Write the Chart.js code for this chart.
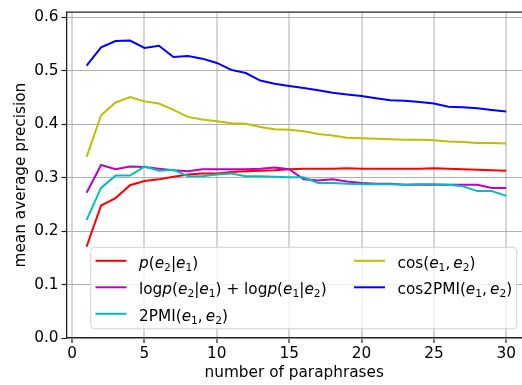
<!DOCTYPE html>
<html>
<head>
<meta charset="utf-8">
<script src="https://cdn.jsdelivr.net/npm/chart.js@4.4.0/dist/chart.umd.min.js"></script>
<style>
  html, body { margin: 0; padding: 0; background: #ffffff; overflow: hidden; }
  canvas { display: block; }
</style>
</head>
<body>
<canvas id="chart" width="522" height="385"></canvas>
<script>
// Number of paraphrases (x values)
const paraphraseCounts = [1, 2, 3, 4, 5, 6, 7, 8, 9, 10, 11, 12, 13, 14, 15,
                          16, 17, 18, 19, 20, 21, 22, 23, 24, 25, 26, 27, 28, 29, 30];

// Mean average precision per scoring method
const condProb = [0.171, 0.248, 0.262, 0.286, 0.294, 0.297, 0.302, 0.306, 0.308, 0.308,
                  0.311, 0.312, 0.313, 0.314, 0.316, 0.317, 0.317, 0.317, 0.318, 0.317,
                  0.317, 0.317, 0.317, 0.317, 0.318, 0.317, 0.316, 0.315, 0.314, 0.313];
const logProbSum = [0.272, 0.324, 0.316, 0.321, 0.320, 0.317, 0.314, 0.312, 0.316, 0.316,
                    0.316, 0.316, 0.317, 0.319, 0.316, 0.297, 0.295, 0.297, 0.293, 0.290,
                    0.289, 0.289, 0.287, 0.287, 0.287, 0.287, 0.287, 0.287, 0.281, 0.281];
const pmi2 = [0.221, 0.281, 0.304, 0.304, 0.321, 0.313, 0.315, 0.303, 0.303, 0.306,
              0.308, 0.303, 0.303, 0.302, 0.301, 0.301, 0.290, 0.290, 0.289, 0.288,
              0.288, 0.288, 0.287, 0.288, 0.288, 0.287, 0.284, 0.275, 0.275, 0.266];
const cosine = [0.339, 0.417, 0.441, 0.451, 0.443, 0.439, 0.427, 0.414, 0.409, 0.406,
                0.402, 0.401, 0.395, 0.391, 0.390, 0.387, 0.382, 0.379, 0.375, 0.374,
                0.373, 0.372, 0.371, 0.371, 0.370, 0.368, 0.367, 0.365, 0.365, 0.364];
const cos2pmi = [0.510, 0.544, 0.556, 0.557, 0.543, 0.547, 0.526, 0.528, 0.523, 0.515,
                 0.502, 0.496, 0.482, 0.476, 0.472, 0.468, 0.464, 0.459, 0.456, 0.453,
                 0.449, 0.445, 0.444, 0.442, 0.439, 0.433, 0.432, 0.430, 0.427, 0.424];

// Series labels in a small math markup: "%x" = italic x, "_d" = subscript d
const seriesLabels = [
  '%p(%e_2|%e_1)',
  'log%p(%e_2|%e_1) + log%p(%e_1|%e_2)',
  '2PMI(%e_1,\u2009%e_2)',
  'cos(%e_1,\u2009%e_2)',
  'cos2PMI(%e_1,\u2009%e_2)'
];
const seriesValues = [condProb, logProbSum, pmi2, cosine, cos2pmi];
const seriesColors = ['#ff0000', '#bf00bf', '#00bfbf', '#bfbf00', '#0000ff'];

const xTicks = [0, 5, 10, 15, 20, 25, 30];
const yTicks = [0.0, 0.1, 0.2, 0.3, 0.4, 0.5, 0.6];

const FONT = "'DejaVu Sans', 'Liberation Sans', sans-serif";
const TEXT_SIZE = 15.3;

// Split markup into styled runs
function parseMath(str) {
  const runs = [];
  for (let i = 0; i < str.length; i++) {
    const ch = str[i];
    if (ch === '%') { runs.push({ t: str[++i], style: 'i' }); }
    else if (ch === '_') { runs.push({ t: str[++i], style: 's' }); }
    else { runs.push({ t: ch, style: 'r' }); }
  }
  return runs;
}

function drawMath(ctx, str, x, baseline, size) {
  const runs = parseMath(str);
  ctx.textBaseline = 'alphabetic';
  ctx.textAlign = 'left';
  let cx = x;
  for (const r of runs) {
    let font, dy = 0;
    if (r.style === 'i') font = `italic ${size}px ${FONT}`;
    else if (r.style === 's') { font = `${(size * 0.7).toFixed(1)}px ${FONT}`; dy = size * 0.22; }
    else font = `${size}px ${FONT}`;
    ctx.font = font;
    ctx.fillText(r.t, cx, baseline + dy);
    cx += ctx.measureText(r.t).width;
  }
}

// Top spine and the in-axes legend
const framePlugin = {
  id: 'frameAndLegend',
  afterDraw(chart) {
    const { ctx, chartArea } = chart;
    ctx.save();
    // top spine
    ctx.strokeStyle = '#222222';
    ctx.lineWidth = 1.3;
    ctx.beginPath();
    ctx.moveTo(chartArea.left - 0.6, chartArea.top);
    ctx.lineTo(chart.width, chartArea.top);
    ctx.stroke();

    // legend frame
    const bx = 90.7, by = 247.3, bw = 426, bh = 81.5, rad = 4;
    ctx.beginPath();
    ctx.moveTo(bx + rad, by);
    ctx.lineTo(bx + bw - rad, by);
    ctx.arcTo(bx + bw, by, bx + bw, by + rad, rad);
    ctx.lineTo(bx + bw, by + bh - rad);
    ctx.arcTo(bx + bw, by + bh, bx + bw - rad, by + bh, rad);
    ctx.lineTo(bx + rad, by + bh);
    ctx.arcTo(bx, by + bh, bx, by + bh - rad, rad);
    ctx.lineTo(bx, by + rad);
    ctx.arcTo(bx, by, bx + rad, by, rad);
    ctx.closePath();
    ctx.fillStyle = 'rgba(255,255,255,0.8)';
    ctx.fill();
    ctx.strokeStyle = '#d0d0d0';
    ctx.lineWidth = 1;
    ctx.stroke();

    // legend entries, filled column by column (3 rows)
    const colX = [95.5, 354];
    const rowY = [260.8, 287.3, 313.8];
    seriesLabels.forEach((label, i) => {
      const col = Math.floor(i / 3), row = i % 3;
      const hx = colX[col], hy = rowY[row];
      ctx.strokeStyle = seriesColors[i];
      ctx.lineWidth = 2;
      ctx.beginPath();
      ctx.moveTo(hx, hy);
      ctx.lineTo(hx + 31, hy);
      ctx.stroke();
      ctx.fillStyle = '#000000';
      drawMath(ctx, label, hx + 43.5, hy + 6.8, TEXT_SIZE);
    });
    ctx.restore();
  }
};

const datasets = seriesValues.map((vals, i) => ({
  label: seriesLabels[i],
  data: paraphraseCounts.map((x, j) => ({ x: x, y: vals[j] })),
  borderColor: seriesColors[i],
  backgroundColor: seriesColors[i],
  borderWidth: 2,
  pointRadius: 0,
  tension: 0,
  fill: false,
  order: seriesValues.length - i
}));

new Chart(document.getElementById('chart').getContext('2d'), {
  type: 'line',
  data: { datasets },
  plugins: [framePlugin],
  options: {
    responsive: false,
    maintainAspectRatio: false,
    animation: false,
    devicePixelRatio: 1,
    layout: { padding: { top: 6, right: 0, bottom: 0, left: 0 } },
    plugins: { legend: { display: false }, tooltip: { enabled: false } },
    scales: {
      x: {
        type: 'linear',
        min: -0.39,
        max: 31.09,
        afterFit(scale) { scale.height = 47; },
        afterBuildTicks(scale) { scale.ticks = xTicks.map(v => ({ value: v })); },
        ticks: {
          font: { family: FONT, size: TEXT_SIZE },
          color: '#000000',
          padding: 2,
          maxRotation: 0,
          autoSkip: false,
          callback: v => String(v)
        },
        grid: { color: '#d6d6d6', lineWidth: 2, tickLength: 5, tickColor: '#222222', tickWidth: 1.2 },
        border: { display: true, color: '#222222', width: 1.3 },
        title: {
          display: true,
          text: 'number of paraphrases',
          font: { family: FONT, size: TEXT_SIZE },
          color: '#000000',
          padding: { top: 0, bottom: 3 }
        }
      },
      y: {
        type: 'linear',
        min: 0,
        max: 0.61,
        afterFit(scale) { scale.width = 66.5; },
        afterBuildTicks(scale) { scale.ticks = yTicks.map(v => ({ value: v })); },
        ticks: {
          font: { family: FONT, size: TEXT_SIZE },
          color: '#000000',
          padding: 3,
          autoSkip: false,
          callback: v => Number(v).toFixed(1)
        },
        grid: { color: '#b0b0b0', lineWidth: 1, tickLength: 5, tickColor: '#222222', tickWidth: 1.2 },
        border: { display: true, color: '#222222', width: 1.3 },
        title: {
          display: true,
          text: 'mean average precision',
          font: { family: FONT, size: TEXT_SIZE },
          color: '#000000',
          padding: { top: 11.7, bottom: 0 }
        }
      }
    }
  }
});
</script>
</body>
</html>
